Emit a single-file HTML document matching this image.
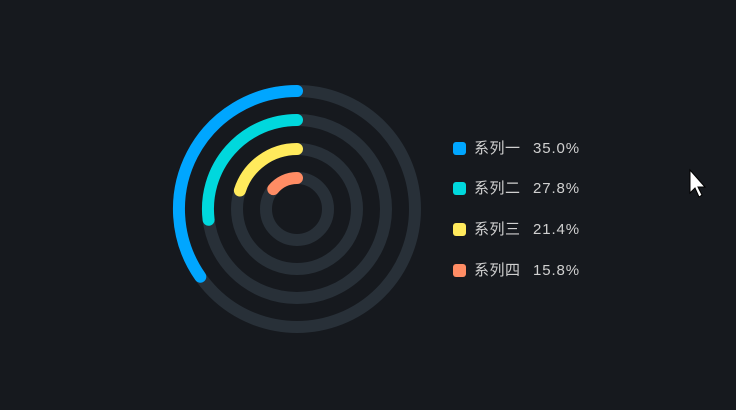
<!DOCTYPE html>
<html><head><meta charset="utf-8"><style>
html,body{margin:0;padding:0;background:#16191e;}
body{width:736px;height:410px;overflow:hidden;position:relative;font-family:"Liberation Sans","Noto Sans CJK SC",sans-serif;}
.lg{position:absolute;left:453px;font-size:15px;color:#d0d0d0;height:14px;line-height:14px;}
.lg i{position:absolute;left:0;top:0;width:13px;height:13px;border-radius:3px;}
.lg span{position:absolute;left:21px;white-space:nowrap;letter-spacing:0.5px;}
.lg b{position:absolute;left:80px;font-weight:normal;white-space:nowrap;letter-spacing:0.9px;}
</style></head><body>
<svg width="736" height="410" style="position:absolute;left:0;top:0">
<g fill="none" stroke="#283038" stroke-width="12">
<circle cx="297" cy="209" r="118"/>
<circle cx="297" cy="209" r="89"/>
<circle cx="297" cy="209" r="60"/>
<circle cx="297" cy="209" r="31"/>
</g>
<g fill="none" stroke-width="12" stroke-linecap="round">
<path d="M297 91 A118 118 0 0 0 200.3 276.7" stroke="#00a6ff"/>
<path d="M297 120 A89 89 0 0 0 208.6 219.8" stroke="#00d8dd"/>
<path d="M297 149 A60 60 0 0 0 239.9 190.5" stroke="#ffea5c"/>
<path d="M297 178 A31 31 0 0 0 273.3 189.1" stroke="#ff8c64"/>
</g>
<path d="M690 170 L690 193 L695 188 L699 197 L702 195 L698 187 L705 187 Z" fill="#fff" stroke="#000" stroke-width="1"/>
</svg>
<div class="lg" style="top:142px"><i style="background:#00a6ff"></i><span>系列一</span><b>35.0%</b></div>
<div class="lg" style="top:182px"><i style="background:#00d8dd"></i><span>系列二</span><b>27.8%</b></div>
<div class="lg" style="top:223px"><i style="background:#ffea5c"></i><span>系列三</span><b>21.4%</b></div>
<div class="lg" style="top:264px"><i style="background:#ff8c64"></i><span>系列四</span><b>15.8%</b></div>
</body></html>
